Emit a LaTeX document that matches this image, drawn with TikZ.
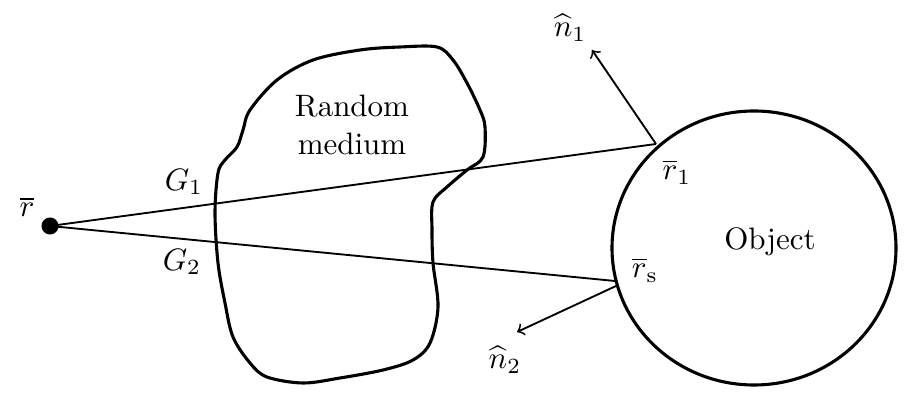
\documentclass[tikz,border=0pt]{standalone}
\usetikzlibrary{arrows}
\begin{document}
\begin{tikzpicture}[x=0.3226pt,y=-0.3226pt,
  lbl/.style={inner sep=0pt,font=\normalsize},
  ray/.style={line width=0.6pt},
  normal/.style={line width=0.6pt,-to},
  thick outline/.style={line width=1pt}]
\useasboundingbox (0,0) rectangle (910,396);
% random medium
\draw[thick outline] plot[smooth cycle,tension=0.55] coordinates {
(250,110) (277,80) (313,60) (360,50) (400,47) (437,47) (453,60) (467,83)
(480,110) (485,127) (483,157) (467,170) (447,187) (433,202) (432,230)
(433,263) (438,307) (430,343) (413,360) (383,370) (340,378) (303,383)
(267,377) (250,363) (233,337) (225,303) (218,263) (215,213) (218,173)
(225,160) (237,147) (243,130)};
\node[lbl,align=center] (rm) at (352,125) {Random\\[0.5pt]medium};
% object
\draw[thick outline] (754,248) ellipse [x radius=142, y radius=137];
\node[lbl] (obj) at (770,242) {Object};
% points
\node[circle,fill=black,inner sep=0pt,minimum size=5.5pt] (src) at (50,226) {};
\coordinate (r1) at (656,144);
\coordinate (rs) at (615,281);
\coordinate (rs2) at (616,286);
\coordinate (n1tip) at (592,50);
\coordinate (n2tip) at (517,332);
\draw[ray] (src.center) -- (r1);
\draw[ray] (src.center) -- (rs);
\draw[normal] (r1) -- (n1tip);
\draw[normal] (rs2) -- (n2tip);
% labels
\node[lbl] (lr) at (27,207) {$\overline{r}$};
\node[lbl] (lg1) at (184,182) {$G_1$};
\node[lbl] (lg2) at (182,262) {$G_2$};
\node[lbl] (lr1) at (677,172) {$\overline{r}_1$};
\node[lbl] (lrs) at (645,270) {$\overline{r}_\mathrm{s}$};
\node[lbl] (ln1) at (570,28) {$\widehat{n}_1$};
\node[lbl] (ln2) at (505,360) {$\widehat{n}_2$};
\end{tikzpicture}
\end{document}
